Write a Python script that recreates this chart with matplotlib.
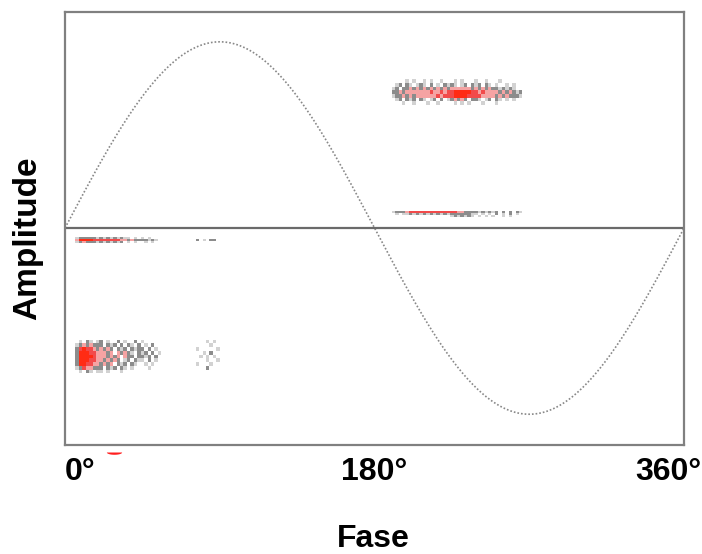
import numpy as np
import matplotlib
matplotlib.use("Agg")
import matplotlib.pyplot as plt
from matplotlib.colors import ListedColormap, BoundaryNorm
from matplotlib.path import Path
import matplotlib.transforms as mtransforms

plt.rcParams['font.family'] = ['Liberation Sans', 'DejaVu Sans']

# phase ticks (degrees)
tick_phases = [0, 180, 360]
tick_labels = ["0°", "180°", "360°"]

# reference waveform sampled every degree
wave_phase = np.arange(0, 361, 1)

# hit density maps: each string is one amplitude row (top first),
# each digit one phase bin; 0 = no pulses, 5 = highest density
# negative half-cycle, large pulses
neg_big_phase0, neg_big_dphase = 6, 2
neg_big_amp0, neg_big_damp = -0.60, 0.02
neg_big_rows = [
    "0102101" "201002010020" "100000" "0000000000" "0001010",
    "1232322" "202120202102" "010200" "0000000000" "0000100",
    "2454432" "323202120212" "202010" "0000000000" "1000001",
    "2555443" "332303232102" "120201" "0000000000" "0010200",
    "2555543" "332323032202" "212020" "0000000000" "0101010",
    "2555443" "323232012021" "102010" "0000000000" "0001001",
    "2554433" "232302120210" "010100" "0000000000" "1000100",
    "1243322" "202120210100" "001000" "0000000000" "0002000",
    "0102101" "101000100000" "000000" "0000000000" "0000000",
]

# negative half-cycle, small pulses
neg_small_phase0, neg_small_dphase = 6, 2
neg_small_amp0, neg_small_damp = -0.05, 0.01
neg_small_rows = [
    "1222221" "212121211010" "101000" "0000000000" "0000000",
    "3555544" "444444332322" "221210" "0000000000" "2010220",
    "1232221" "212121201010" "010100" "0000000000" "0000000",
]

# positive half-cycle, large pulses
pos_big_phase0, pos_big_dphase = 188, 2
pos_big_amp0, pos_big_damp = 0.80, 0.02
pos_big_rows = [
    "00" "0001010010100100" "0101000" "1001000100000" "00",
    "00" "1202101210201021" "2101202" "1202101001010" "00",
    "01" "2022323232323232" "3333332" "3232322121210" "00",
    "02" "2323333333433434" "4555554" "4343333232321" "20",
    "01" "2232323333334344" "4555544" "4433332323222" "10",
    "00" "1202120210120201" "2323202" "2101202101010" "00",
    "00" "0010010001001000" "0101010" "0010001000000" "00",
]

# positive half-cycle, small pulses
pos_small_phase0, pos_small_dphase = 188, 2
pos_small_amp0, pos_small_damp = 0.09, 0.01
pos_small_rows = [
    "01" "2223444444444444" "4433222" "2121212020202" "10",
    "00" "1011212121212121" "2222221" "1010102010201" "00",
    "00" "0000000000000000" "1212121" "0101010010100" "00",
]

# stray mark under the axis
stray_phase = [28.5]
stray_amp = [-1.205]

density_cmap = ListedColormap(["#d2d2d2", "#8c8c8c", "#f5a3a3", "#f24a4a", "#ff2b14"])
density_norm = BoundaryNorm([0.5, 1.5, 2.5, 3.5, 4.5, 5.5], density_cmap.N)


def draw_density(ax, rows, phase0, dphase, amp0, damp):
    grid = np.array([[int(c) for c in r] for r in rows], dtype=float)
    grid = np.ma.masked_equal(grid, 0)
    xe = phase0 + dphase * np.arange(grid.shape[1] + 1)
    ye = amp0 - damp * np.arange(grid.shape[0] + 1)
    ax.pcolormesh(xe, ye, grid, cmap=density_cmap, norm=density_norm,
                  shading="flat", zorder=3)


fig = plt.figure(figsize=(7.02, 5.54), dpi=100)
ax = fig.add_axes([0.0926, 0.1968, 0.8818, 0.7815])

ax.plot(wave_phase, np.sin(np.radians(wave_phase)), color="#888888",
        lw=1.2, ls=(0, (1, 1.2)), zorder=2)
ax.axhline(0, color="#6a6a6a", lw=1.6, zorder=2)

draw_density(ax, neg_big_rows, neg_big_phase0, neg_big_dphase, neg_big_amp0, neg_big_damp)
draw_density(ax, neg_small_rows, neg_small_phase0, neg_small_dphase, neg_small_amp0, neg_small_damp)
draw_density(ax, pos_big_rows, pos_big_phase0, pos_big_dphase, pos_big_amp0, pos_big_damp)
draw_density(ax, pos_small_rows, pos_small_phase0, pos_small_dphase, pos_small_amp0, pos_small_damp)

# flat half-disc marker
t = np.linspace(np.pi, 2 * np.pi, 30)
half = Path(np.column_stack([np.cos(t), 0.3 * np.sin(t)]))
ax.plot(stray_phase, stray_amp, ls="none", marker=half, ms=11,
        mfc="#ff2020", mec="none", clip_on=False, zorder=4)

ax.set_xlim(0, 360)
ax.set_ylim(-1.165, 1.16)
ax.set_yticks([])
ax.set_xticks(tick_phases)
ax.set_xticklabels(tick_labels, fontsize=23, fontweight="bold")
ax.tick_params(axis="x", length=0, pad=9)

# keep the end labels inside the figure
labs = ax.get_xticklabels()
labs[0].set_transform(labs[0].get_transform() +
                      mtransforms.ScaledTranslation(0.15, 0, fig.dpi_scale_trans))
labs[2].set_transform(labs[2].get_transform() +
                      mtransforms.ScaledTranslation(-0.16, 0, fig.dpi_scale_trans))

for s in ax.spines.values():
    s.set_color("#808080")
    s.set_linewidth(1.6)

fig.text(373.5 / 702, 1 - 539 / 554, "Fase", fontsize=23, fontweight="bold",
         ha="center", va="center")
fig.text(28 / 702, 1 - 238 / 554, "Amplitude", fontsize=24, fontweight="bold",
         ha="center", va="center", rotation=90)

fig.savefig("out.png", dpi=100)
